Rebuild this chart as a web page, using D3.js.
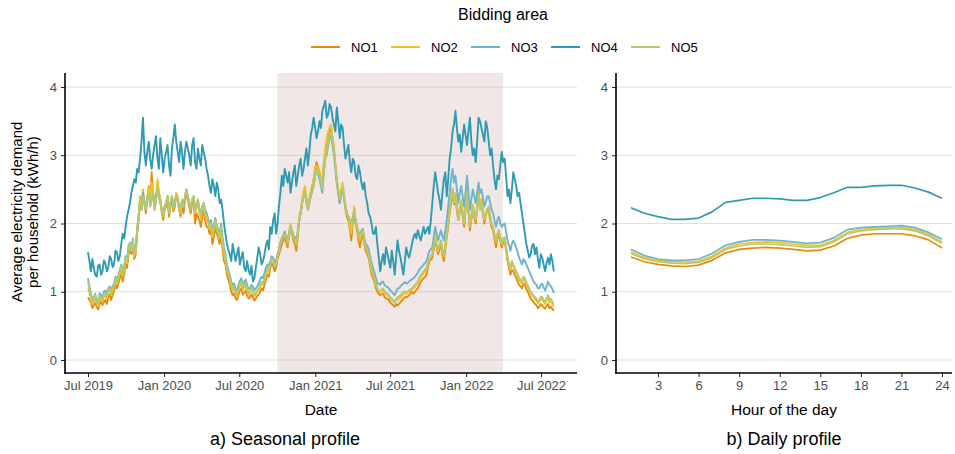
<!DOCTYPE html>
<html><head><meta charset="utf-8">
<script src="https://cdn.jsdelivr.net/npm/d3@7/dist/d3.min.js"></script>
<style>body{margin:0;background:#fff}svg{display:block;font-family:"Liberation Sans",Arial,sans-serif}</style>
</head><body><svg id="c" width="955" height="454"></svg>
<script>
// ---- data ----
const areas = ["NO1","NO2","NO3","NO4","NO5"];
const areaColors = ["#E88A10","#EEC22C","#6DB4CD","#2F9AB4","#B8C86C"];
const seasonStart = "2019-07-01"; // one observation every 3.5 days
const seasonStepHours = 84;
const shadeRange = ["2020-10-01","2022-03-31"];
const seasonTickLabels = ["Jul 2019","Jan 2020","Jul 2020","Jan 2021","Jul 2021","Jan 2022","Jul 2022"];
const seasonTickDates = ["2019-07-01","2020-01-01","2020-07-01","2021-01-01","2021-07-01","2022-01-01","2022-07-01"];
const yTicks = [0,1,2,3,4];
const hourTicks = [3,6,9,12,15,18,21,24];
const hours = [1,2,3,4,5,6,7,8,9,10,11,12,13,14,15,16,17,18,19,20,21,22,23,24];

const seasonNO1 = [
0.92,0.88,0.85,0.76,0.80,0.84,0.78,0.74,0.82,0.86,0.80,0.85,0.88,0.82,0.92,0.96,0.88,0.95,1.00,1.10,1.05,1.12,1.20,1.28,1.15,1.25,1.40,1.35,1.55,1.62,1.55,1.68,1.48,1.55,1.85,2.05,2.35,2.20,2.45,2.30,2.15,2.35,2.55,2.30,2.75,2.45,2.20,2.35,2.60,2.45,2.35,2.15,2.05,2.20,2.25,2.35,2.10,2.25,2.35,2.18,2.25,2.40,2.35,2.20,2.10,2.30,2.15,2.32,2.45,2.35,2.25,2.15,2.30,2.35,2.00,2.15,2.10,2.05,1.95,2.10,2.20,
2.05,1.95,1.95,1.85,1.90,1.70,1.80,1.95,1.85,1.80,1.70,1.85,1.62,1.45,1.40,1.25,1.18,1.10,1.00,0.95,0.98,0.90,0.88,0.95,1.02,1.05,0.96,0.98,1.02,0.95,0.90,0.92,0.96,0.92,0.87,0.90,0.94,0.95,1.00,1.05,1.02,1.10,1.18,1.25,1.22,1.35,1.42,1.38,1.30,1.35,1.48,1.55,1.62,1.70,1.75,1.80,1.72,1.65,1.82,1.95,1.85,1.75,1.70,1.60,1.80,2.05,2.15,2.30,2.42,2.50,2.35,2.25,2.35,2.45,2.55,2.65,2.80,2.90,2.82,2.75,2.65,2.60,
2.85,3.05,3.15,3.30,3.35,3.40,3.25,3.10,2.85,2.60,2.45,2.30,2.45,2.55,2.38,2.20,2.10,2.05,1.92,1.75,2.00,2.20,2.00,1.90,1.75,1.65,1.78,1.85,1.70,1.60,1.55,1.50,1.38,1.25,1.20,1.15,1.05,1.00,0.97,0.95,0.96,0.98,0.92,0.90,0.90,0.88,0.84,0.82,0.80,0.78,0.82,0.80,0.82,0.85,0.87,0.90,0.92,0.92,0.93,0.95,0.98,1.00,0.97,1.00,1.03,1.05,1.10,1.15,1.17,1.20,1.22,1.25,1.36,1.45,1.47,1.50,1.62,1.75,1.65,1.55,1.62,1.70,
1.55,1.45,1.62,1.80,1.95,2.15,2.30,2.45,2.28,2.40,2.20,2.05,2.18,2.30,2.10,1.95,2.22,2.50,2.18,1.90,2.05,2.25,2.10,2.00,2.22,2.45,2.25,2.35,2.15,2.00,2.12,2.20,2.18,2.05,1.95,1.90,1.78,1.65,1.78,1.85,1.75,1.65,1.72,1.75,1.60,1.45,1.35,1.25,1.32,1.30,1.25,1.20,1.15,1.10,1.08,1.05,1.12,1.10,1.04,1.00,0.95,0.90,0.87,0.85,0.82,0.80,0.76,0.78,0.82,0.80,0.77,0.75,0.79,0.82,0.76,0.78,0.75,0.72];
const seasonNO2 = [
1.05,0.98,0.92,0.82,0.86,0.90,0.82,0.79,0.90,0.88,0.85,0.92,0.95,0.90,1.00,1.03,0.95,1.02,1.08,1.17,1.12,1.20,1.28,1.35,1.22,1.32,1.48,1.42,1.62,1.68,1.60,1.74,1.52,1.60,1.90,2.10,2.40,2.25,2.50,2.32,2.25,2.40,2.55,2.35,2.60,2.45,2.25,2.40,2.65,2.45,2.35,2.20,2.10,2.25,2.30,2.40,2.15,2.30,2.40,2.22,2.30,2.45,2.40,2.25,2.15,2.32,2.25,2.38,2.50,2.40,2.30,2.20,2.35,2.38,2.15,2.25,2.30,2.15,2.05,2.20,2.25,
2.12,2.05,2.02,1.92,1.98,1.80,1.90,2.05,1.92,1.85,1.78,1.95,1.70,1.55,1.46,1.32,1.25,1.18,1.07,1.02,1.05,0.97,0.93,1.02,1.09,1.12,1.02,1.06,1.09,1.02,0.95,0.98,1.03,1.00,0.93,0.96,1.00,1.02,1.07,1.12,1.10,1.18,1.25,1.32,1.30,1.42,1.50,1.48,1.38,1.42,1.55,1.60,1.72,1.78,1.82,1.88,1.80,1.72,1.88,2.00,1.90,1.80,1.75,1.68,1.88,2.10,2.20,2.35,2.48,2.55,2.38,2.25,2.35,2.45,2.55,2.65,2.78,2.85,2.80,2.75,2.65,2.60,
2.90,3.10,3.22,3.35,3.40,3.45,3.28,3.10,2.88,2.65,2.50,2.35,2.50,2.60,2.42,2.25,2.15,2.10,1.98,1.85,2.05,2.25,2.05,1.95,1.82,1.75,1.85,1.90,1.75,1.65,1.60,1.55,1.42,1.32,1.25,1.20,1.10,1.05,1.01,1.00,1.02,1.03,0.97,0.96,0.95,0.93,0.90,0.88,0.85,0.84,0.87,0.88,0.90,0.92,0.94,0.97,0.98,0.97,0.99,1.00,1.02,1.04,1.05,1.07,1.10,1.12,1.17,1.22,1.24,1.27,1.30,1.32,1.42,1.50,1.52,1.55,1.70,1.82,1.70,1.60,1.68,1.75,
1.60,1.52,1.68,1.85,2.02,2.22,2.38,2.52,2.32,2.45,2.25,2.08,2.22,2.35,2.18,2.00,2.25,2.52,2.22,1.95,2.10,2.28,2.15,2.05,2.25,2.45,2.25,2.35,2.18,2.05,2.15,2.22,2.22,2.10,2.00,1.95,1.83,1.72,1.82,1.90,1.80,1.70,1.76,1.80,1.65,1.50,1.40,1.32,1.40,1.38,1.32,1.28,1.22,1.17,1.14,1.12,1.18,1.17,1.10,1.07,1.02,0.97,0.94,0.92,0.88,0.87,0.83,0.85,0.90,0.88,0.85,0.82,0.87,0.90,0.84,0.86,0.82,0.78];
const seasonNO3 = [
1.20,1.08,0.98,0.88,0.92,0.97,0.88,0.85,0.98,0.95,0.92,1.00,1.02,0.96,1.05,1.08,1.02,1.08,1.12,1.22,1.18,1.25,1.32,1.40,1.28,1.38,1.52,1.48,1.68,1.72,1.62,1.78,1.58,1.65,1.92,2.12,2.35,2.22,2.45,2.30,2.20,2.38,2.45,2.25,2.35,2.45,2.25,2.38,2.50,2.40,2.30,2.22,2.15,2.25,2.30,2.40,2.15,2.28,2.40,2.25,2.30,2.42,2.35,2.25,2.20,2.35,2.25,2.38,2.50,2.40,2.30,2.22,2.35,2.40,2.20,2.28,2.35,2.22,2.15,2.25,2.30,
2.20,2.15,2.08,2.00,2.05,1.90,1.98,2.08,1.98,1.90,1.85,2.00,1.80,1.65,1.55,1.40,1.32,1.25,1.15,1.10,1.12,1.05,1.02,1.10,1.16,1.20,1.10,1.15,1.18,1.10,1.04,1.05,1.10,1.08,1.02,1.05,1.08,1.12,1.18,1.22,1.20,1.28,1.35,1.40,1.38,1.45,1.52,1.50,1.42,1.45,1.55,1.62,1.72,1.78,1.82,1.88,1.80,1.72,1.85,1.95,1.90,1.82,1.80,1.75,1.88,2.05,2.15,2.30,2.40,2.45,2.30,2.20,2.30,2.40,2.48,2.55,2.70,2.80,2.72,2.65,2.55,2.45,
2.75,2.95,3.00,3.15,3.25,3.30,3.15,3.00,2.80,2.60,2.45,2.30,2.42,2.50,2.38,2.25,2.15,2.10,2.05,2.00,2.08,2.15,2.02,1.95,1.88,1.85,1.90,1.92,1.78,1.70,1.68,1.62,1.52,1.42,1.35,1.28,1.20,1.12,1.12,1.10,1.14,1.15,1.10,1.08,1.07,1.05,1.02,1.00,0.97,0.95,1.00,1.05,1.05,1.08,1.10,1.12,1.14,1.12,1.13,1.15,1.17,1.18,1.20,1.22,1.25,1.28,1.32,1.35,1.37,1.40,1.42,1.45,1.52,1.60,1.62,1.65,1.80,1.95,1.85,1.75,1.82,1.90,
1.82,1.75,1.90,2.05,2.25,2.45,2.65,2.80,2.60,2.70,2.50,2.30,2.45,2.55,2.40,2.25,2.45,2.70,2.45,2.20,2.35,2.50,2.40,2.30,2.45,2.60,2.45,2.50,2.38,2.25,2.32,2.40,2.40,2.30,2.20,2.15,2.05,1.95,2.05,2.10,2.00,1.95,1.98,2.00,1.88,1.75,1.68,1.60,1.70,1.75,1.70,1.65,1.58,1.50,1.45,1.40,1.48,1.45,1.40,1.35,1.30,1.25,1.20,1.15,1.12,1.10,1.05,1.05,1.10,1.12,1.06,1.02,1.08,1.15,1.10,1.08,1.04,0.98];
const seasonNO4 = [
1.58,1.45,1.30,1.48,1.35,1.25,1.22,1.38,1.40,1.25,1.30,1.46,1.42,1.30,1.35,1.52,1.48,1.36,1.40,1.60,1.58,1.45,1.52,1.70,1.85,1.78,1.95,2.10,2.20,2.30,2.45,2.55,2.65,2.60,2.80,2.75,2.95,3.20,3.55,3.05,2.85,3.05,3.20,2.95,2.80,3.00,3.15,3.28,2.95,2.80,3.25,3.00,2.75,2.95,3.05,3.15,2.85,2.70,3.10,3.25,3.45,3.20,3.05,2.90,3.20,3.05,2.80,3.05,3.20,3.10,3.00,2.85,3.15,3.25,2.90,2.80,3.10,2.95,2.85,3.15,3.05,
2.95,2.80,2.70,2.55,2.45,2.65,2.55,2.40,2.60,2.50,2.30,2.35,2.20,2.00,1.85,1.70,1.62,1.55,1.45,1.70,1.58,1.45,1.55,1.65,1.40,1.50,1.58,1.35,1.30,1.45,1.32,1.25,1.38,1.15,1.20,1.35,1.50,1.65,1.55,1.40,1.45,1.55,1.68,1.75,1.62,1.95,1.85,2.05,2.15,1.85,2.00,2.25,2.45,2.70,2.55,2.80,2.70,2.60,2.75,2.45,2.60,2.75,2.85,2.55,2.70,2.85,2.95,2.70,2.80,2.95,3.10,2.85,3.05,3.30,3.40,3.55,3.40,3.25,3.35,3.50,3.40,3.65,
3.72,3.80,3.55,3.60,3.75,3.70,3.55,3.45,3.35,3.70,3.50,3.25,3.45,3.40,3.15,2.95,3.05,3.15,2.90,2.75,2.95,2.90,2.70,2.65,2.85,2.75,2.60,2.50,2.60,2.40,2.30,2.15,2.10,2.00,1.85,1.85,1.95,1.70,1.50,1.30,1.45,1.55,1.40,1.65,1.55,1.45,1.35,1.60,1.45,1.25,1.50,1.75,1.60,1.50,1.38,1.25,1.45,1.65,1.55,1.50,1.60,1.70,1.80,1.85,1.78,1.90,1.82,1.75,1.85,1.95,1.85,1.90,1.95,1.85,2.05,2.30,2.55,2.75,2.60,2.45,2.35,2.20,
2.45,2.65,2.75,2.40,2.65,2.95,3.10,3.35,3.45,3.65,3.40,3.20,3.30,3.05,3.25,3.45,3.30,3.15,3.35,3.55,3.20,3.00,3.10,2.90,3.20,3.55,3.50,3.40,3.30,3.20,3.50,3.40,3.20,3.00,3.10,2.85,2.65,2.50,2.70,2.65,2.85,3.05,2.90,2.95,2.70,2.40,2.50,2.30,2.50,2.75,2.65,2.55,2.40,2.45,2.30,2.15,2.00,1.85,1.70,1.60,1.50,1.55,1.68,1.70,1.55,1.65,1.48,1.35,1.55,1.50,1.40,1.30,1.42,1.50,1.40,1.55,1.45,1.30];
const seasonNO5 = [
1.15,1.02,0.95,0.85,0.90,0.95,0.85,0.82,0.95,0.90,0.88,0.96,0.98,0.92,1.02,1.06,0.98,1.05,1.10,1.20,1.15,1.22,1.30,1.38,1.25,1.35,1.50,1.45,1.65,1.70,1.60,1.75,1.55,1.62,1.90,2.10,2.35,2.20,2.40,2.28,2.20,2.35,2.45,2.25,2.35,2.45,2.20,2.35,2.50,2.40,2.30,2.20,2.10,2.25,2.30,2.40,2.15,2.30,2.40,2.25,2.30,2.42,2.35,2.25,2.15,2.35,2.25,2.38,2.50,2.40,2.30,2.22,2.35,2.40,2.20,2.28,2.35,2.20,2.10,2.25,2.30,
2.15,2.10,2.05,1.95,2.00,1.85,1.92,2.05,1.95,1.85,1.80,1.95,1.75,1.60,1.50,1.35,1.28,1.20,1.10,1.05,1.08,1.00,0.96,1.05,1.12,1.15,1.05,1.10,1.12,1.05,0.98,1.00,1.05,1.02,0.95,0.98,1.02,1.05,1.10,1.15,1.12,1.20,1.28,1.35,1.32,1.40,1.48,1.45,1.38,1.40,1.52,1.60,1.70,1.75,1.80,1.85,1.78,1.70,1.85,1.95,1.88,1.80,1.78,1.70,1.85,2.05,2.15,2.30,2.40,2.45,2.30,2.20,2.30,2.40,2.48,2.55,2.70,2.80,2.75,2.70,2.60,2.50,
2.75,2.95,3.05,3.20,3.30,3.35,3.20,3.05,2.85,2.65,2.50,2.35,2.45,2.55,2.40,2.25,2.15,2.10,2.05,2.00,2.10,2.20,2.05,1.95,1.85,1.80,1.88,1.90,1.75,1.65,1.60,1.55,1.45,1.35,1.28,1.20,1.12,1.05,1.02,1.00,1.03,1.05,1.00,0.98,0.97,0.95,0.92,0.90,0.87,0.85,0.90,0.92,0.93,0.95,0.97,1.00,1.01,0.98,1.00,1.02,1.04,1.05,1.08,1.10,1.12,1.15,1.20,1.25,1.27,1.30,1.32,1.35,1.42,1.50,1.52,1.55,1.68,1.80,1.70,1.60,1.68,1.75,
1.62,1.55,1.70,1.85,2.00,2.20,2.35,2.50,2.30,2.40,2.20,2.05,2.20,2.30,2.15,2.00,2.20,2.45,2.20,1.95,2.10,2.25,2.15,2.05,2.25,2.40,2.20,2.30,2.15,2.05,2.15,2.20,2.25,2.10,2.00,1.95,1.85,1.75,1.85,1.90,1.80,1.70,1.78,1.80,1.65,1.50,1.42,1.35,1.45,1.40,1.35,1.30,1.25,1.20,1.18,1.15,1.22,1.20,1.14,1.10,1.05,1.00,0.97,0.95,0.92,0.90,0.85,0.88,0.93,0.92,0.88,0.85,0.90,0.95,0.88,0.90,0.85,0.82];

const dailyNO1 = [1.51,1.44,1.40,1.38,1.37,1.39,1.46,1.57,1.62,1.64,1.65,1.64,1.62,1.60,1.61,1.67,1.78,1.83,1.85,1.85,1.85,1.82,1.76,1.64];
const dailyNO2 = [1.58,1.50,1.46,1.44,1.43,1.45,1.52,1.64,1.70,1.72,1.73,1.72,1.70,1.68,1.68,1.75,1.87,1.91,1.93,1.94,1.94,1.91,1.84,1.73];
const dailyNO3 = [1.62,1.53,1.48,1.46,1.46,1.48,1.56,1.68,1.73,1.76,1.76,1.75,1.73,1.71,1.72,1.79,1.91,1.94,1.95,1.96,1.97,1.94,1.87,1.77];
const dailyNO4 = [2.23,2.15,2.10,2.06,2.06,2.08,2.17,2.31,2.34,2.37,2.37,2.36,2.34,2.34,2.38,2.45,2.53,2.53,2.55,2.56,2.56,2.52,2.46,2.37];
const dailyNO5 = [1.56,1.48,1.44,1.42,1.41,1.43,1.50,1.62,1.67,1.70,1.70,1.69,1.67,1.65,1.66,1.73,1.85,1.89,1.91,1.92,1.92,1.89,1.82,1.71];

const seasonSeries = [seasonNO1,seasonNO2,seasonNO3,seasonNO4,seasonNO5];
const dailySeries = [dailyNO1,dailyNO2,dailyNO3,dailyNO4,dailyNO5];

// ---- drawing ----
const svg = d3.select("#c");
const parse = d3.utcParse("%Y-%m-%d");
const t0 = parse(seasonStart);
const dates = seasonNO1.map((_,i)=>d3.utcHour.offset(t0, i*seasonStepHours));

const P = {top:73, bottom:373};
const L = {left:65, right:577};
const R = {left:616, right:952};
const y = d3.scaleLinear().domain([0,4]).range([360,87]);
const xS = d3.scaleUtc().domain([parse("2019-07-01"),parse("2022-07-01")]).range([88,541]);
const xH = d3.scaleLinear().domain([3,24]).range([658,942]);

const gridCol = "#dedede";
function panel(x0,x1){
  const g = svg.append("g");
  yTicks.forEach(v=>{
    g.append("line").attr("x1",x0).attr("x2",x1).attr("y1",y(v)).attr("y2",y(v))
     .attr("stroke",gridCol).attr("stroke-width",1.1);
  });
  return g;
}
const gL = panel(L.left,L.right);
gL.append("rect").attr("x",xS(parse(shadeRange[0]))).attr("y",P.top)
  .attr("width",xS(parse(shadeRange[1]))-xS(parse(shadeRange[0]))).attr("height",P.bottom-P.top)
  .attr("fill","rgb(200,150,150)").attr("fill-opacity",0.23);
const gR = panel(R.left,R.right);

seasonSeries.forEach((s,i)=>{
  const line = d3.line().x((d,j)=>xS(dates[j])).y(d=>y(d));
  svg.append("path").attr("d",line(s)).attr("fill","none")
    .attr("stroke",areaColors[i]).attr("stroke-width",1.9).attr("stroke-linejoin","round");
});
dailySeries.forEach((s,i)=>{
  const line = d3.line().x((d,j)=>xH(hours[j])).y(d=>y(d));
  svg.append("path").attr("d",line(s)).attr("fill","none")
    .attr("stroke",areaColors[i]).attr("stroke-width",1.7).attr("stroke-linejoin","round");
});

function yAxis(x0){
  const a = d3.axisLeft(y).tickValues(yTicks).tickSize(4).tickPadding(4).tickFormat(d3.format("d"));
  const g = svg.append("g").attr("transform",`translate(${x0},0)`).call(a);
  g.select(".domain").remove();
  g.selectAll(".tick line").attr("stroke","#222");
  g.selectAll(".tick text").attr("fill","#4d4d4d").attr("font-size",13).attr("font-family","Liberation Sans, Arial");
  svg.append("line").attr("x1",x0).attr("x2",x0).attr("y1",P.top).attr("y2",P.bottom+0.75)
    .attr("stroke","#000").attr("stroke-width",1.6);
}
function xAxis(scale,vals,fmt,x0,x1){
  const a = d3.axisBottom(scale).tickValues(vals).tickSize(4).tickPadding(4).tickFormat(fmt);
  const g = svg.append("g").attr("transform",`translate(0,${P.bottom})`).call(a);
  g.select(".domain").remove();
  g.selectAll(".tick line").attr("stroke","#222");
  g.selectAll(".tick text").attr("fill","#4d4d4d").attr("font-size",13).attr("font-family","Liberation Sans, Arial");
  svg.append("line").attr("x1",x0-0.75).attr("x2",x1).attr("y1",P.bottom).attr("y2",P.bottom)
    .attr("stroke","#000").attr("stroke-width",1.6);
}
yAxis(L.left); yAxis(R.left);
const sDates = seasonTickDates.map(parse);
xAxis(xS,sDates,(d)=>seasonTickLabels[sDates.findIndex(e=>+e===+d)],L.left,L.right);
xAxis(xH,hourTicks,d3.format("d"),R.left,R.right);

const txt = (x,yy,s,size,col,anchor)=>svg.append("text").attr("x",x).attr("y",yy).text(s)
  .attr("font-size",size).attr("fill",col||"#000").attr("text-anchor",anchor||"middle");
txt((L.left+L.right)/2,415,"Date",15.5);
txt((R.left+R.right)/2,415,"Hour of the day",15.5);
txt(285,445,"a) Seasonal profile",18);
txt(784,445,"b) Daily profile",18);
const yl = svg.append("text").attr("transform","translate(22,212) rotate(-90)")
  .attr("text-anchor","middle").attr("font-size",15).attr("fill","#000");
yl.append("tspan").attr("x",0).attr("dy",0).text("Average electricity demand");
yl.append("tspan").attr("x",0).attr("dy",16).text("per household (kWh/h)");

txt(503,20,"Bidding area",16);
areas.forEach((a,i)=>{
  const x0 = 311 + i*80;
  svg.append("line").attr("x1",x0).attr("x2",x0+29).attr("y1",47).attr("y2",47)
    .attr("stroke",areaColors[i]).attr("stroke-width",2);
  txt(x0+40,52,a,13,"#000","start");
});
</script></body></html>
